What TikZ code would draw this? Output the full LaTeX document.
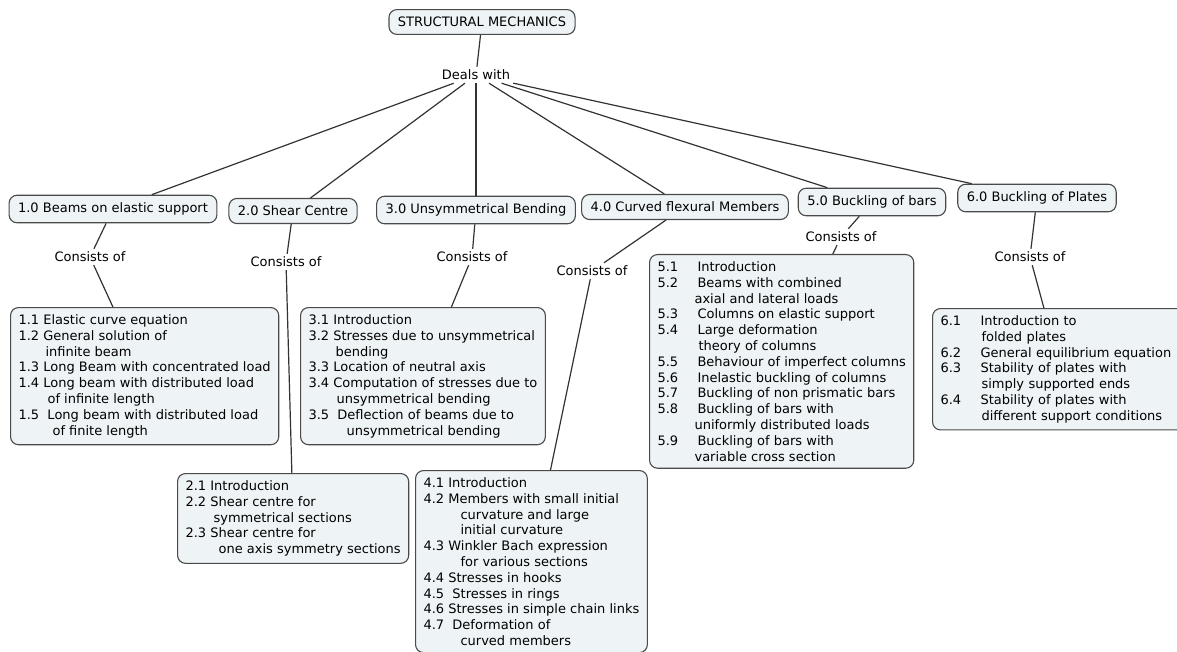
\documentclass[tikz,border=0pt]{standalone}
\usepackage{fontspec}
\setmainfont{DejaVu Sans}
\usetikzlibrary{positioning}

\definecolor{boxfill}{HTML}{EEF3F6}
\definecolor{boxline}{HTML}{4A4A4A}
\definecolor{edgeline}{HTML}{333333}
\newcommand{\ind}[1]{\hspace*{#1pt}}
\newcommand{\num}[1]{\makebox[40pt][l]{#1}}
\newcommand{\numb}[1]{\makebox[40pt][l]{#1}}

\begin{document}
\begin{tikzpicture}
[x=1pt,y=-1pt,
 topicDecorate/.style={shape=rectangle,rounded corners=8pt,draw=boxline,fill=boxfill,line width=1.1pt,inner xsep=9pt,inner ysep=7.5pt,font=\fontsize{13}{15.8}\selectfont},
 listDecorate/.style={topicDecorate,anchor=north west,align=left,inner xsep=8pt,inner ysep=7pt},
 linkDecorate/.style={inner sep=3pt,font=\fontsize{13}{15.8}\selectfont}]
\path[use as bounding box,fill=white] (0,0) rectangle (1177,652);
%% root and linking phrase
\node (top) at (482,22) [topicDecorate] {STRUCTURAL MECHANICS};
\node (deals) at (476,75) [linkDecorate] {Deals with};
%% chapters
\foreach \nodename/\x/\y/\txt in {b1/113/209/1.0 Beams on elastic support,
  b2/293/211/2.0 Shear Centre, b3/476/210/3.0 Unsymmetrical Bending,
  b4/685/207/4.0 Curved flexural Members, b5/872/202/5.0 Buckling of bars,
  b6/1037/198/6.0 Buckling of Plates}
{
  \node (\nodename) at (\x,\y) [topicDecorate] {\txt};
}
%% linking phrases
\foreach \nodename/\x/\y in {c1/90/257, c2/286/262, c3/472/257, c4/592/271, c5/841/237, c6/1030/257}
{
  \node (\nodename) at (\x,\y) [linkDecorate] {Consists of};
}
%% contents
\node (d1) at (10,307) [listDecorate] {1.1 Elastic curve equation\\
  1.2 General solution of\\ \ind{27}infinite beam\\
  1.3 Long Beam with concentrated load\\
  1.4 Long beam with distributed load\\ \ind{29}of infinite length\\
  1.5 \ Long beam with distributed load\\ \ind{34}of finite length};
\node (d2) at (177,473) [listDecorate] {2.1 Introduction\\
  2.2 Shear centre for\\ \ind{28}symmetrical sections\\
  2.3 Shear centre for\\ \ind{33}one axis symmetry sections};
\node (d3) at (300,307) [listDecorate] {3.1 Introduction\\
  3.2 Stresses due to unsymmetrical\\ \ind{27}bending\\
  3.3 Location of neutral axis\\
  3.4 Computation of stresses due to\\ \ind{28}unsymmetrical bending\\
  3.5 \ Deflection of beams due to\\ \ind{38}unsymmetrical bending};
\node (d4) at (415,470) [listDecorate] {4.1 Introduction\\
  4.2 Members with small initial\\ \ind{37}curvature and large\\ \ind{37}initial curvature\\
  4.3 Winkler Bach expression\\ \ind{37}for various sections\\
  4.4 Stresses in hooks\\
  4.5 \ Stresses in rings\\
  4.6 Stresses in simple chain links\\
  4.7 \ Deformation of\\ \ind{37}curved members};
\node (d5) at (649,254) [listDecorate] {\num{5.1}Introduction\\
  \num{5.2}Beams with combined\\ \ind{37}axial and lateral loads\\
  \num{5.3}Columns on elastic support\\
  \num{5.4}Large deformation\\ \ind{41}theory of columns\\
  \num{5.5}Behaviour of imperfect columns\\
  \num{5.6}Inelastic buckling of columns\\
  \num{5.7}Buckling of non prismatic bars\\
  \num{5.8}Buckling of bars with\\ \ind{37}uniformly distributed loads\\
  \num{5.9}Buckling of bars with\\ \ind{37}variable cross section};
\node (d6) at (932,308) [listDecorate,text width=240pt] {\numb{6.1}Introduction to\\ \ind{41}folded plates\\
  \numb{6.2}General equilibrium equation\\
  \numb{6.3}Stability of plates with\\ \ind{41}simply supported ends\\
  \numb{6.4}Stability of plates with\\ \ind{41}different support conditions};
%% connectors
\tikzstyle{EdgeStyle}=[draw=edgeline,line width=1.2pt]
\foreach \startnode/\endnode in {top/deals, deals/b1, deals/b2, deals/b3, deals/b4, deals/b5, deals/b6,
  b1/c1, c1/d1, b2/c2, c2/d2, b3/c3, c3/d3, b4/c4, c4/d4, b5/c5, c5/d5, b6/c6, c6/d6}
{
  \draw[EdgeStyle] (\startnode) -- (\endnode);
}
\end{tikzpicture}
\end{document}
